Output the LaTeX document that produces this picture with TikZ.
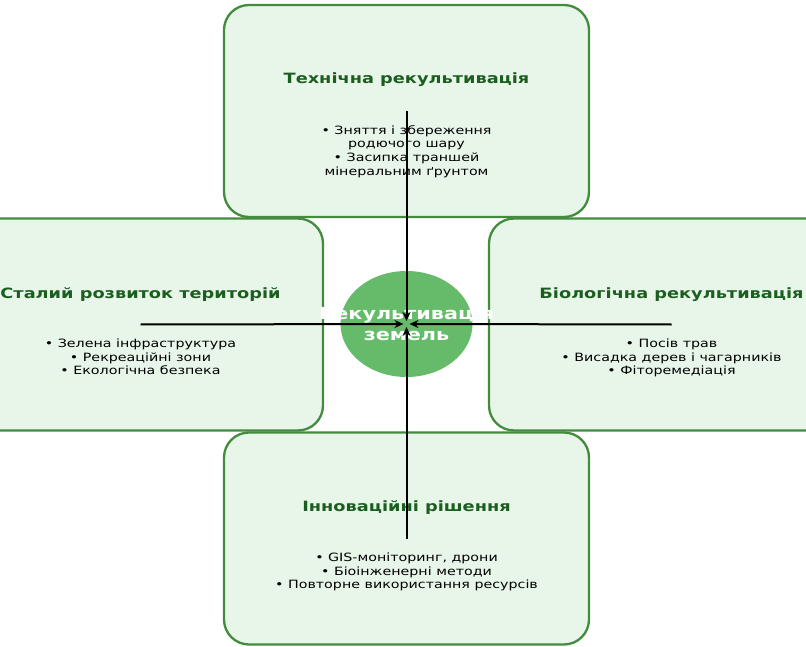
\documentclass[tikz,border=0pt]{standalone}
\usepackage{fontspec}
\setmainfont[FakeStretch=1.25]{DejaVu Sans}
\usetikzlibrary{positioning,arrows.meta}

\definecolor{boxfill}{RGB}{232,245,233}
\definecolor{boxedge}{RGB}{67,140,62}
\definecolor{headgreen}{RGB}{27,94,32}
\definecolor{corefill}{RGB}{102,187,106}

\tikzset{
  panel/.style={draw=boxedge, fill=boxfill, line width=2.3pt, rounded corners=25pt,
    minimum width=365pt, minimum height=212pt},
  heading/.style={font=\bfseries\fontsize{14.2}{16}\selectfont, text=headgreen, inner sep=0pt},
  items/.style={font=\fontsize{11.4}{13.7}\selectfont, align=center, inner sep=0pt},
  link/.style={line width=2pt, -{Stealth[length=9pt,width=8pt]}, shorten >=3pt},
}

\begin{document}
\begin{tikzpicture}[x=1pt,y=-1pt]
  \useasboundingbox (0,0) rectangle (806,647);
  \begin{scope}
    \clip (0,0) rectangle (806,647);
    \node[panel] (tech) at (406.5,111) {};
    \node[panel] (stal) at (140.5,324.5) {};
    \node[panel] (bio) at (671.5,324.5) {};
    \node[panel] (inno) at (406.5,538.5) {};
  \end{scope}

  % headings and lists
  \node[heading] (techT) at ([yshift=31pt]tech.center) {Технічна рекультивація};
  \node[items, below=14pt of tech.center] (techL) {• Зняття і збереження\\родючого шару\\• Засипка траншей\\мінеральним ґрунтом};
  \node[heading] (stalT) at ([yshift=30pt]stal.center) {Сталий розвиток територій};
  \node[items, below=14pt of stal.center] (stalL) {• Зелена інфраструктура\\• Рекреаційні зони\\• Екологічна безпека};
  \node[heading] (bioT) at ([yshift=30pt]bio.center) {Біологічна рекультивація};
  \node[items, below=14pt of bio.center] (bioL) {• Посів трав\\• Висадка дерев і чагарників\\• Фіторемедіація};
  \node[heading] (innoT) at ([yshift=31pt]inno.center) {Інноваційні рішення};
  \node[items, below=14pt of inno.center] (innoL) {• GIS-моніторинг, дрони\\• Біоінженерні методи\\• Повторне використання ресурсів};

  \fill[corefill] (406.5,324) ellipse [x radius=66pt, y radius=53pt];
  \node[text=white, align=center, inner sep=0pt, font=\bfseries\fontsize{16.6}{20.5}\selectfont] (core) at (406.5,324) {Рекультивація\\земель};

  \foreach \src in {tech,stal,bio,inno}
    \draw[link] (\src.center) -- (core.center);
\end{tikzpicture}
\end{document}
